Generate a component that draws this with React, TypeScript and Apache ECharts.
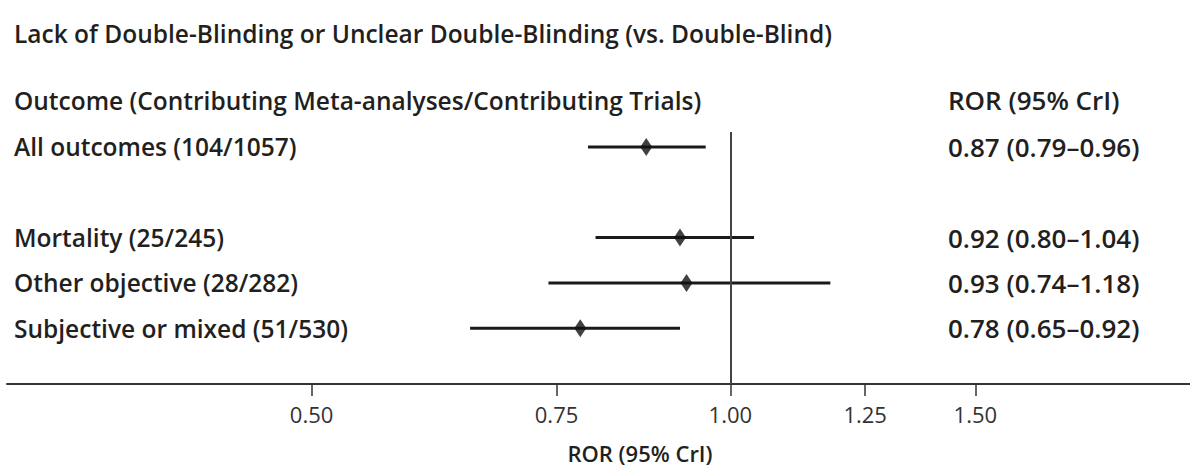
import React, { useEffect, useRef } from "react";
import * as echarts from "echarts";

const TITLE = "Lack of Double-Blinding or Unclear Double-Blinding (vs. Double-Blind)";
const LEFT_HEADER = "Outcome (Contributing Meta-analyses/Contributing Trials)";
const RIGHT_HEADER = "ROR (95% CrI)";
const AXIS_NAME = "ROR (95% CrI)";

const outcomes = [
  "All outcomes (104/1057)",
  "",
  "Mortality (25/245)",
  "Other objective (28/282)",
  "Subjective or mixed (51/530)",
];
const ror: (number | null)[] = [0.87, null, 0.92, 0.93, 0.78];
const lower: (number | null)[] = [0.79, null, 0.8, 0.74, 0.65];
const upper: (number | null)[] = [0.96, null, 1.04, 1.18, 0.92];
const tickValues = [0.5, 0.75, 1.0, 1.25, 1.5];
const refValue = 1.0;

const FONT = "'Open Sans', 'Noto Sans', sans-serif";
const INK = "#231f20";
const BOLD_SIZE = 24.5;
const RIGHT_SIZE = 26;

export default function App() {
  const ref = useRef<HTMLDivElement>(null);
  useEffect(() => {
    if (!ref.current) return;
    const chart = echarts.init(ref.current, undefined, { renderer: "svg" });
    const ln = Math.log;
    const rows = outcomes.map((_, i) => i).filter((i) => ror[i] != null);
    const rightText = (i: number) =>
      `${(ror[i] as number).toFixed(2)} (${(lower[i] as number).toFixed(2)}–${(upper[i] as number).toFixed(2)})`;
    const yBase = {
      type: "value" as const,
      inverse: true,
      min: -0.33,
      max: 5.23,
      axisLine: { show: false },
      axisTick: { show: false },
      splitLine: { show: false },
    };
    const txt = (text: string, x: number, y: number, extra: any = {}) => ({
      type: "text",
      x,
      y,
      style: {
        text,
        fontSize: BOLD_SIZE,
        fontWeight: 600,
        fontFamily: FONT,
        fill: INK,
        verticalAlign: "middle",
        ...extra,
      },
    });
    chart.setOption({
      animation: false,
      textStyle: { fontFamily: FONT },
      grid: { left: 7, right: 0, top: 132, bottom: 85 },
      xAxis: {
        type: "value",
        min: ln(0.302),
        max: ln(2.14),
        axisLine: { onZero: false, lineStyle: { color: "#333", width: 2 } },
        axisTick: {
          show: true,
          length: 12,
          customValues: tickValues.map(ln),
          lineStyle: { color: "#333", width: 1.5 },
        },
        axisLabel: {
          customValues: tickValues.map(ln),
          formatter: (v: number) => Math.exp(v).toFixed(2),
          margin: 19,
          fontSize: 22,
          color: "#333",
          fontFamily: FONT,
        },
        splitLine: { show: false },
      },
      yAxis: [
        {
          ...yBase,
          position: "left",
          axisLabel: {
            fontSize: BOLD_SIZE,
            fontWeight: 600,
            color: INK,
            fontFamily: FONT,
            customValues: rows,
            formatter: (v: number) => outcomes[Math.round(v)],
            align: "left",
            margin: -7,
          },
        },
        {
          ...yBase,
          position: "right",
          axisLabel: {
            fontSize: RIGHT_SIZE,
            fontWeight: 600,
            color: INK,
            fontFamily: FONT,
            customValues: rows,
            formatter: (v: number) => rightText(Math.round(v)),
            align: "left",
            margin: -242,
          },
        },
      ],
      series: [
        {
          type: "custom",
          renderItem: (params: any, api: any) => {
            const a = api.coord([api.value(0), api.value(2)]);
            const b = api.coord([api.value(1), api.value(2)]);
            return {
              type: "line",
              shape: { x1: a[0], y1: a[1], x2: b[0], y2: b[1] },
              style: { stroke: "#1a1a1a", lineWidth: 3 },
            };
          },
          encode: { x: [0, 1], y: 2 },
          data: rows.map((i) => [ln(lower[i] as number), ln(upper[i] as number), i]),
          z: 2,
        },
        {
          type: "scatter",
          symbol: "diamond",
          symbolSize: [12, 18],
          itemStyle: { color: "#111" },
          data: rows.map((i) => [ln(ror[i] as number), i]),
          z: 4,
          markLine: {
            silent: true,
            symbol: ["none", "none"],
            label: { show: false },
            lineStyle: { color: "#444", width: 2, type: "solid" },
            data: [{ xAxis: ln(refValue) }],
          },
        },
      ],
      graphic: [
        txt(TITLE, 14, 33),
        txt(LEFT_HEADER, 14, 100),
        txt(RIGHT_HEADER, 948, 100, { fontSize: RIGHT_SIZE }),
        txt(AXIS_NAME, 640, 453, { align: "center", fontSize: 22 }),
      ],
    });
    return () => chart.dispose();
  }, []);
  return (
    <div
      ref={ref}
      style={{ position: "fixed", left: 0, top: 0, width: 1190, height: 469, background: "#fff" }}
    />
  );
}
